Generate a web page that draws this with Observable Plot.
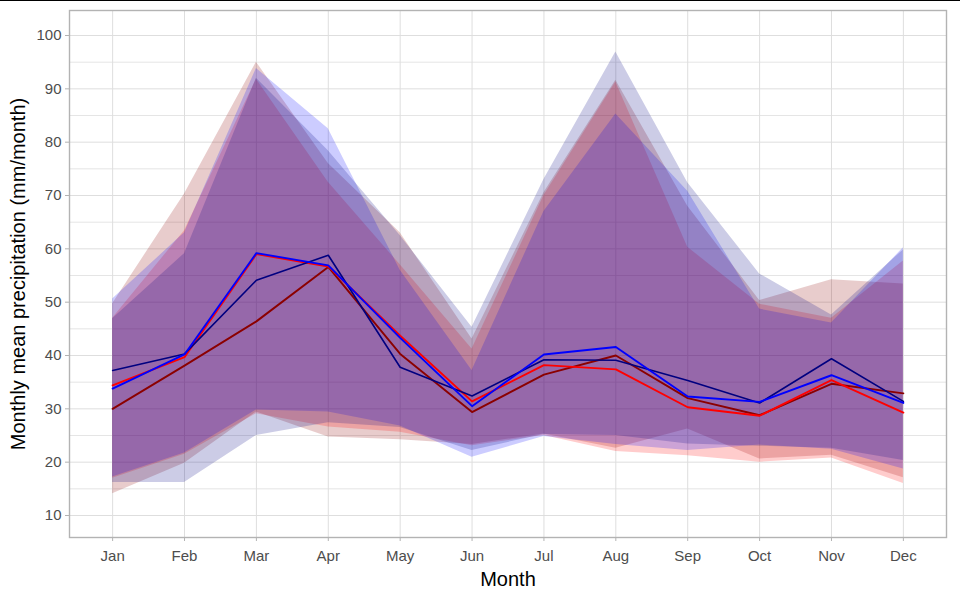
<!DOCTYPE html>
<html>
<head>
<meta charset="utf-8">
<script src="https://cdn.jsdelivr.net/npm/d3@7"></script>
<script src="https://cdn.jsdelivr.net/npm/@observablehq/plot@0.6"></script>
<style>
  html, body { margin: 0; padding: 0; background: #ffffff; }
  #topline { position: absolute; left: 0; top: 0; width: 960px; height: 1px; background: #000; }
  #chart { position: absolute; left: 0; top: 0; }
</style>
</head>
<body>
<div id="chart"></div>
<div id="topline"></div>
<script>
const months = ["Jan","Feb","Mar","Apr","May","Jun","Jul","Aug","Sep","Oct","Nov","Dec"];
const yTicks = [10,20,30,40,50,60,70,80,90,100];
const yMinor = [15,25,35,45,55,65,75,85,95];

// series: dark red
const darkredMean  = [30.0,38.1,46.4,56.6,40.3,29.4,36.4,40.0,32.0,28.8,34.7,32.9];
const darkredUpper = [49.7,70.3,95.0,76.0,63.0,43.1,70.5,91.6,68.0,50.3,54.2,53.4];
const darkredLower = [14.1,19.8,29.4,24.7,24.2,23.3,25.3,22.6,26.2,20.6,21.3,17.1];
// series: red
const redMean  = [34.4,39.7,59.0,56.7,43.7,31.4,38.2,37.4,30.3,28.7,35.4,29.3];
const redUpper = [47.0,63.4,91.8,72.5,57.0,41.2,70.0,91.3,60.3,49.6,47.0,57.7];
const redLower = [17.0,21.5,29.1,26.6,25.6,23.1,25.0,22.0,21.2,20.0,20.8,16.0];
// series: blue
const blueMean  = [33.8,40.2,59.2,56.9,43.3,30.5,40.2,41.6,32.3,31.3,36.3,31.1];
const blueUpper = [50.6,63.0,93.8,82.5,56.0,37.2,67.0,85.3,70.8,48.7,46.1,60.2];
const blueLower = [17.2,21.7,29.8,29.4,26.8,20.9,24.8,23.3,22.2,23.2,22.4,18.7];
// series: dark blue
const navyMean  = [37.2,40.3,54.1,58.8,37.8,32.4,39.2,39.1,35.3,31.1,39.4,31.4];
const navyUpper = [46.9,59.1,92.0,78.4,62.5,45.3,73.0,96.9,72.4,55.3,47.6,59.8];
const navyLower = [16.2,16.2,25.0,27.4,26.5,22.2,25.2,25.0,23.4,23.0,22.6,20.3];

function rows(mean, lo, hi) {
  return months.map((m, i) => ({month: m, mean: mean[i], lo: lo[i], hi: hi[i]}));
}
const series = [
  {color: "darkred", data: rows(darkredMean, darkredLower, darkredUpper), w: 1.9},
  {color: "red",     data: rows(redMean, redLower, redUpper), w: 1.9},
  {color: "blue",    data: rows(blueMean, blueLower, blueUpper), w: 1.9},
  {color: "navy",    data: rows(navyMean, navyLower, navyUpper), w: 1.6}
];
const lineOrder = ["darkred","red","navy","blue"];

const grid = "#dedede";
const marks = [
  Plot.ruleY(yMinor, {stroke: grid, strokeWidth: 0.8}),
  Plot.ruleY(yTicks, {stroke: grid, strokeWidth: 1}),
  Plot.ruleX(months, {stroke: grid, strokeWidth: 1}),
  ...series.map(s => Plot.areaY(s.data, {x: "month", y1: "lo", y2: "hi", fill: s.color, fillOpacity: 0.2, curve: "linear"})),
  ...lineOrder.map(c => {
    const s = series.find(d => d.color === c);
    return Plot.lineY(s.data, {x: "month", y: "mean", stroke: s.color, strokeWidth: s.w});
  }),
  Plot.frame({stroke: "#b3b3b3", strokeWidth: 1.4}),
  Plot.axisY(yTicks, {tickSize: 4, tickPadding: 4, stroke: "#b3b3b3", fill: "#4d4d4d", fontSize: 15, label: null}),
  Plot.axisX(months, {tickSize: 4, tickPadding: 9, stroke: "#b3b3b3", fill: "#4d4d4d", fontSize: 15, label: null}),
  Plot.text(["Month"], {frameAnchor: "bottom", lineAnchor: "middle", dy: 42, fontSize: 20, fill: "#000"}),
  Plot.text(["Monthly mean precipitation (mm/month)"], {frameAnchor: "left", textAnchor: "middle", lineAnchor: "middle", dx: -51, rotate: -90, fontSize: 20, fill: "#000"})
];

const chart = Plot.plot({
  width: 960,
  height: 600,
  marginLeft: 69,
  marginRight: 14,
  marginTop: 10,
  marginBottom: 63,
  style: {fontFamily: "'Liberation Sans', Arial, sans-serif", background: "#ffffff"},
  x: {type: "point", domain: months, padding: 0.6, round: false, axis: null},
  y: {domain: [5.875, 104.69], axis: null},
  marks
});
document.getElementById("chart").appendChild(chart);
</script>
</body>
</html>
